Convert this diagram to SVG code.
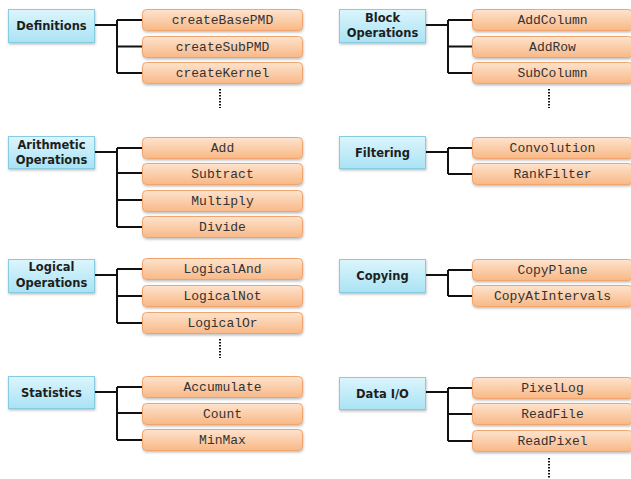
<svg xmlns="http://www.w3.org/2000/svg" width="631" height="479" viewBox="0 0 631 479">
<defs>
<linearGradient id="gCat" x1="0" y1="0" x2="0" y2="1"><stop offset="0" stop-color="#dcf5fc"/><stop offset="1" stop-color="#a9e3f4"/></linearGradient>
<linearGradient id="gItem" x1="0" y1="0" x2="0" y2="1"><stop offset="0" stop-color="#fde3cd"/><stop offset="1" stop-color="#f9b887"/></linearGradient>
<filter id="sh" x="-10%" y="-20%" width="120%" height="160%"><feDropShadow dx="0.5" dy="1.5" stdDeviation="1" flood-color="#000" flood-opacity="0.25"/></filter>
</defs>
<style>
.cat{fill:url(#gCat);stroke:#86cbe0;stroke-width:1;filter:url(#sh)}
.item{fill:url(#gItem);stroke:#f0a56e;stroke-width:1;filter:url(#sh)}
.ct{font-family:"DejaVu Sans","Liberation Sans",sans-serif;font-weight:bold;font-size:11.5px;fill:#1e1e1e;text-anchor:middle}
.it{font-family:"Liberation Mono","Courier New",monospace;font-size:13px;fill:#333;text-anchor:middle}
.ln{fill:none;stroke:#111;stroke-width:2}
.dot{fill:none;stroke:#111;stroke-width:2;stroke-dasharray:1.5 1.5}
</style>
<rect width="631" height="479" fill="#fff"/>
<g id="connectors">
<path class="ln" d="M94 25H117M117 20V73M117 20H142M117 46.5H142M117 73H142"/>
<path class="ln" d="M425 25H448M448 20V73M448 20H472M448 46.5H472M448 73H472"/>
<path class="ln" d="M94 152H117M117 148V227M117 148H142M117 173H142M117 200H142M117 227H142"/>
<path class="ln" d="M425 152H448M448 148V174M448 148H472M448 174H472"/>
<path class="ln" d="M94 275H117M117 269V323M117 269H142M117 296H142M117 323H142"/>
<path class="ln" d="M425 275H448M448 270V296M448 270H472M448 296H472"/>
<path class="ln" d="M94 392H117M117 387V440M117 387H142M117 413H142M117 440H142"/>
<path class="ln" d="M425 392H448M448 388V441M448 388H472M448 414H472M448 441H472"/>
<path class="dot" d="M220 89V108M549 89V108M220 339V358M549 458V478"/>
</g>
<g id="definitions"><rect class="cat" x="8.5" y="9.5" width="86" height="33"/><text class="ct" x="51.5" y="30">Definitions</text></g>
<g id="createBasePMD"><rect class="item" x="142.5" y="9.5" width="160" height="21" rx="4"/><text class="it" x="222.5" y="24">createBasePMD</text></g>
<g id="createSubPMD"><rect class="item" x="142.5" y="36.5" width="160" height="21" rx="4"/><text class="it" x="222.5" y="51">createSubPMD</text></g>
<g id="createKernel"><rect class="item" x="142.5" y="62.5" width="160" height="21" rx="4"/><text class="it" x="222.5" y="77">createKernel</text></g>

<g id="block-operations"><rect class="cat" x="339.5" y="9.5" width="86" height="33"/><text class="ct" x="382.5" y="22">Block</text><text class="ct" x="382.5" y="37">Operations</text></g>
<g id="AddColumn"><rect class="item" x="472.5" y="9.5" width="160" height="21" rx="4"/><text class="it" x="552.5" y="24">AddColumn</text></g>
<g id="AddRow"><rect class="item" x="472.5" y="36.5" width="160" height="21" rx="4"/><text class="it" x="552.5" y="51">AddRow</text></g>
<g id="SubColumn"><rect class="item" x="472.5" y="62.5" width="160" height="21" rx="4"/><text class="it" x="552.5" y="77">SubColumn</text></g>

<g id="arithmetic-operations"><rect class="cat" x="8.5" y="136.5" width="86" height="32"/><text class="ct" x="51.5" y="149">Arithmetic</text><text class="ct" x="51.5" y="164">Operations</text></g>
<g id="Add"><rect class="item" x="142.5" y="137.5" width="160" height="21" rx="4"/><text class="it" x="222.5" y="152">Add</text></g>
<g id="Subtract"><rect class="item" x="142.5" y="163.5" width="160" height="21" rx="4"/><text class="it" x="222.5" y="178">Subtract</text></g>
<g id="Multiply"><rect class="item" x="142.5" y="190.5" width="160" height="21" rx="4"/><text class="it" x="222.5" y="205">Multiply</text></g>
<g id="Divide"><rect class="item" x="142.5" y="216.5" width="160" height="21" rx="4"/><text class="it" x="222.5" y="231">Divide</text></g>

<g id="filtering"><rect class="cat" x="339.5" y="136.5" width="86" height="32"/><text class="ct" x="382.5" y="157">Filtering</text></g>
<g id="Convolution"><rect class="item" x="472.5" y="137.5" width="160" height="21" rx="4"/><text class="it" x="552.5" y="152">Convolution</text></g>
<g id="RankFilter"><rect class="item" x="472.5" y="163.5" width="160" height="21" rx="4"/><text class="it" x="552.5" y="178">RankFilter</text></g>

<g id="logical-operations"><rect class="cat" x="8.5" y="259.5" width="86" height="33"/><text class="ct" x="51.5" y="271">Logical</text><text class="ct" x="51.5" y="287">Operations</text></g>
<g id="LogicalAnd"><rect class="item" x="142.5" y="258.5" width="160" height="21" rx="4"/><text class="it" x="222.5" y="273">LogicalAnd</text></g>
<g id="LogicalNot"><rect class="item" x="142.5" y="285.5" width="160" height="21" rx="4"/><text class="it" x="222.5" y="300">LogicalNot</text></g>
<g id="LogicalOr"><rect class="item" x="142.5" y="312.5" width="160" height="21" rx="4"/><text class="it" x="222.5" y="327">LogicalOr</text></g>

<g id="copying"><rect class="cat" x="339.5" y="259.5" width="86" height="33"/><text class="ct" x="382.5" y="280">Copying</text></g>
<g id="CopyPlane"><rect class="item" x="472.5" y="259.5" width="160" height="21" rx="4"/><text class="it" x="552.5" y="274">CopyPlane</text></g>
<g id="CopyAtIntervals"><rect class="item" x="472.5" y="285.5" width="160" height="21" rx="4"/><text class="it" x="552.5" y="300">CopyAtIntervals</text></g>

<g id="statistics"><rect class="cat" x="8.5" y="376.5" width="86" height="32"/><text class="ct" x="51.5" y="397">Statistics</text></g>
<g id="Accumulate"><rect class="item" x="142.5" y="376.5" width="160" height="21" rx="4"/><text class="it" x="222.5" y="391">Accumulate</text></g>
<g id="Count"><rect class="item" x="142.5" y="403.5" width="160" height="21" rx="4"/><text class="it" x="222.5" y="418">Count</text></g>
<g id="MinMax"><rect class="item" x="142.5" y="429.5" width="160" height="21" rx="4"/><text class="it" x="222.5" y="444">MinMax</text></g>

<g id="data-io"><rect class="cat" x="339.5" y="377.5" width="86" height="32"/><text class="ct" x="382.5" y="398">Data I/O</text></g>
<g id="PixelLog"><rect class="item" x="472.5" y="377.5" width="160" height="21" rx="4"/><text class="it" x="552.5" y="392">PixelLog</text></g>
<g id="ReadFile"><rect class="item" x="472.5" y="403.5" width="160" height="21" rx="4"/><text class="it" x="552.5" y="418">ReadFile</text></g>
<g id="ReadPixel"><rect class="item" x="472.5" y="430.5" width="160" height="21" rx="4"/><text class="it" x="552.5" y="445">ReadPixel</text></g>
</svg>
